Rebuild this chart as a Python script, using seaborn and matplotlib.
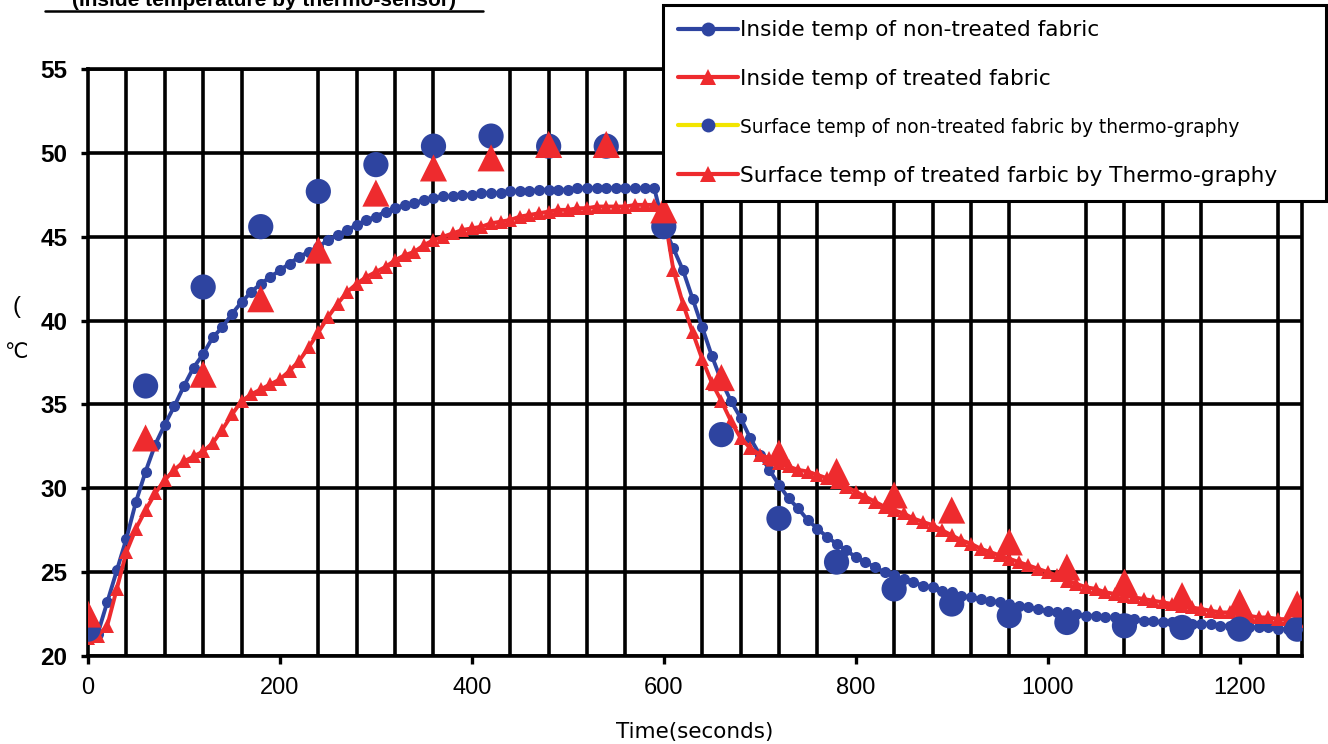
import matplotlib
matplotlib.use("Agg")

import matplotlib.pyplot as plt
import numpy as np
import seaborn as sns
from matplotlib.lines import Line2D

sns.set_style("white")
plt.rcParams["font.family"] = ["Liberation Sans", "DejaVu Sans"]
plt.rcParams.update({"text.color": "black", "axes.labelcolor": "black",
                     "xtick.color": "black", "ytick.color": "black"})

BLUE = "#2E44A0"
RED = "#EE2B2E"
YELLOW = "#F2E500"

# inside temperature (thermo-sensor), one reading every 10 s
inside_time = np.arange(0, 1261, 10)
inside_non_treated = [
    21.5, 21.3, 23.2, 25.1, 27.0, 29.2, 31.0, 32.6, 33.8, 34.9,
    36.1, 37.2, 38.0, 39.0, 39.6, 40.4, 41.1, 41.7, 42.2, 42.6,
    43.0, 43.4, 43.8, 44.1, 44.4, 44.8, 45.1, 45.4, 45.7, 46.0,
    46.2, 46.5, 46.7, 46.9, 47.0, 47.2, 47.3, 47.4, 47.4, 47.5,
    47.5, 47.6, 47.6, 47.6, 47.7, 47.7, 47.7, 47.8, 47.8, 47.8,
    47.8, 47.9, 47.9, 47.9, 47.9, 47.9, 47.9, 47.9, 47.9, 47.9,
    45.6, 44.3, 43.0, 41.3, 39.6, 37.9, 36.4, 35.2, 34.2, 33.0,
    32.0, 31.1, 30.2, 29.4, 28.8, 28.1, 27.6, 27.1, 26.7, 26.3,
    25.9, 25.6, 25.3, 25.0, 24.8, 24.6, 24.4, 24.2, 24.1, 23.9,
    23.8, 23.6, 23.5, 23.4, 23.3, 23.2, 23.1, 23.0, 22.9, 22.8,
    22.7, 22.6, 22.6, 22.5, 22.4, 22.4, 22.3, 22.3, 22.2, 22.2,
    22.1, 22.1, 22.0, 22.0, 22.0, 21.9, 21.9, 21.9, 21.8, 21.8,
    21.7, 21.7, 21.7, 21.7, 21.6, 21.6, 21.6,
]
inside_treated = [
    21.1, 21.2, 21.8, 24.0, 26.2, 27.6, 28.7, 29.7, 30.5, 31.1,
    31.6, 31.9, 32.2, 32.7, 33.5, 34.4, 35.2, 35.6, 35.9, 36.2,
    36.5, 37.0, 37.6, 38.4, 39.3, 40.2, 41.0, 41.7, 42.2, 42.6,
    42.9, 43.2, 43.6, 43.9, 44.1, 44.5, 44.8, 45.0, 45.2, 45.4,
    45.5, 45.6, 45.8, 45.9, 46.0, 46.2, 46.3, 46.4, 46.5, 46.6,
    46.6, 46.7, 46.7, 46.8, 46.8, 46.8, 46.8, 46.9, 46.9, 46.9,
    46.5, 43.0, 41.0, 39.3, 37.7, 36.3, 35.2, 34.0, 33.0, 32.4,
    32.0, 31.8, 31.5, 31.3, 31.1, 31.0, 30.8, 30.6, 30.4, 30.1,
    29.8, 29.5, 29.2, 28.9, 28.7, 28.5, 28.2, 28.0, 27.8, 27.5,
    27.2, 26.9, 26.7, 26.4, 26.2, 26.0, 25.8, 25.6, 25.4, 25.2,
    25.0, 24.8, 24.5, 24.3, 24.1, 24.0, 23.8, 23.7, 23.6, 23.5,
    23.4, 23.3, 23.2, 23.1, 23.0, 22.9, 22.8, 22.7, 22.6, 22.6,
    22.5, 22.4, 22.3, 22.3, 22.2, 22.2, 22.1,
]

# surface temperature (thermo-graphy), one reading every 60 s
surface_time = np.arange(0, 1261, 60)
surface_non_treated = [
    21.6, 36.1, 42.0, 45.6, 47.7, 49.3, 50.4, 51.0, 50.4, 50.4, 45.6,
    33.2, 28.2, 25.6, 24.0, 23.1, 22.4, 22.0, 21.8, 21.7, 21.6, 21.6,
]
surface_treated = [
    22.5, 33.0, 36.8, 41.3, 44.2, 47.6, 49.1, 49.7, 50.5, 50.5, 46.6,
    36.6, 32.1, 31.0, 29.6, 28.7, 26.8, 25.3, 24.4, 23.6, 23.2, 23.1,
]

labels = [
    "Inside temp of non-treated fabric",
    "Inside temp of treated fabric",
    "Surface temp of non-treated fabric by thermo-graphy",
    "Surface temp of treated farbic by Thermo-graphy",
]

fig = plt.figure(figsize=(13.28, 7.44), dpi=100)
ax = fig.add_axes([88 / 1328, 1 - 656 / 744, (1302 - 88) / 1328, (656 - 69) / 744])

# grid first so the data sits on top
ax.set_xticks(np.arange(0, 1261, 40), minor=True)
ax.set_yticks(np.arange(20, 56, 5))
ax.set_xticks(np.arange(0, 1201, 200))
ax.grid(which="minor", axis="x", color="black", lw=2.6)
ax.grid(which="major", axis="y", color="black", lw=2.6)
ax.set_axisbelow(True)

sns.lineplot(x=inside_time, y=inside_non_treated, ax=ax, color=BLUE, lw=2.8,
             marker="o", markersize=8, markeredgewidth=0, zorder=3)
sns.lineplot(x=inside_time, y=inside_treated, ax=ax, color=RED, lw=2.8,
             marker="^", markersize=10, markeredgewidth=0, zorder=4)
sns.scatterplot(x=surface_time, y=surface_non_treated, ax=ax, color=BLUE,
                marker="o", s=330, edgecolor="none", zorder=5)
sns.scatterplot(x=surface_time, y=surface_treated, ax=ax, color=RED,
                marker="^", s=380, edgecolor="none", zorder=6)

ax.set_xlim(0, 1265)
ax.set_ylim(20, 55)
for side in ["left", "bottom", "right", "top"]:
    ax.spines[side].set_color("black")
    ax.spines[side].set_linewidth(2.6)

ax.tick_params(axis="x", which="major", direction="out", length=6, width=2.4,
               color="black", pad=9, labelsize=17, bottom=True)
ax.tick_params(axis="x", which="minor", length=0)
ax.tick_params(axis="y", direction="out", length=5, width=2.4, color="black",
               pad=10, labelsize=17.5, left=True)
for lab in ax.get_yticklabels():
    lab.set_fontweight("bold")

ax.set_xlabel("Time(seconds)", fontsize=15.5, labelpad=17,
              family=["DejaVu Sans"])
ax.set_ylabel("")

fig.text(16 / 1328, 1 - 307 / 744, "(", fontsize=17, ha="center", va="center")
fig.text(16 / 1328, 1 - 352 / 744, "℃", fontsize=15, ha="center", va="center",
         family=["DejaVu Sans"])

# title at the top is cut off by the page edge
fig.text(264 / 1328, 1 - 6 / 744, "(Inside temperature by thermo-sensor)",
         fontsize=15, fontweight="bold", ha="center", va="baseline")
fig.add_artist(Line2D([45 / 1328, 483 / 1328], [1 - 11 / 744, 1 - 11 / 744],
                      color="black", lw=1.8, transform=fig.transFigure))

handles = [
    Line2D([], [], color=BLUE, lw=3, marker="o", markersize=10, markeredgewidth=0),
    Line2D([], [], color=RED, lw=3, marker="^", markersize=11, markeredgewidth=0),
    Line2D([], [], color=YELLOW, lw=3, marker="o", markerfacecolor=BLUE,
           markersize=10, markeredgewidth=0),
    Line2D([], [], color=RED, lw=3, marker="^", markersize=11, markeredgewidth=0),
]
leg = fig.legend(handles, labels, loc="upper left",
                 bbox_to_anchor=(663 / 1328, 1 - 196 / 744, (1326 - 663) / 1328, (196 - 5) / 744),
                 mode="expand", borderaxespad=0,
                 frameon=True, fancybox=False, shadow=False, framealpha=1,
                 handlelength=2.75, handletextpad=0.1, labelspacing=1.33,
                 borderpad=0.7, prop={"family": ["DejaVu Sans"], "size": 15.6})
leg.get_frame().set_edgecolor("black")
leg.get_frame().set_linewidth(2.2)
leg.set_zorder(10)
leg.get_texts()[2].set_fontsize(13.4)

fig.savefig("out.png", dpi=100)
